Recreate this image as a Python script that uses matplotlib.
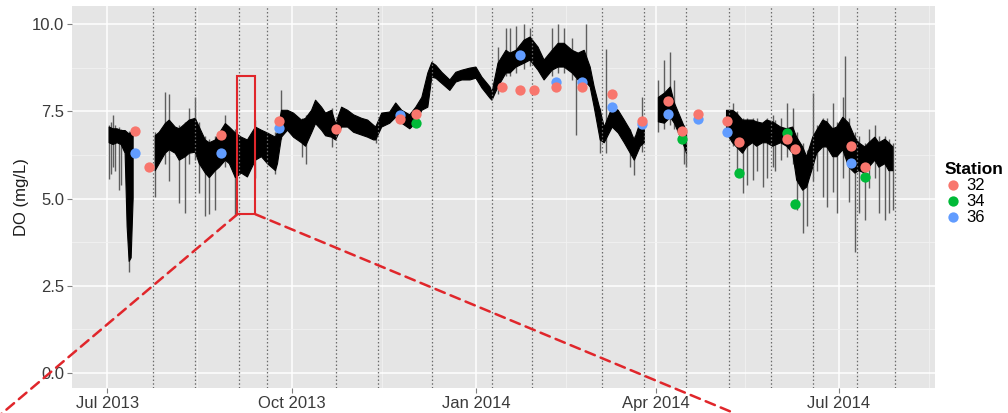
import numpy as np
import pandas as pd
import matplotlib
matplotlib.use("Agg")
import matplotlib.pyplot as plt
import matplotlib.dates as mdates
from matplotlib.patches import Rectangle, ConnectionPatch

plt.rcParams['font.family'] = ['Liberation Sans', 'DejaVu Sans']

nan = np.nan

# continuous DO record: date, band low, band high (NaN rows = gaps in the logger record)
do_dates = [
    "2013-07-02", "2013-07-04", "2013-07-06", "2013-07-08", "2013-07-10", "2013-07-11",
    "2013-07-12", "2013-07-13", "2013-07-14", "2013-07-19",
    "2013-07-25", "2013-07-27", "2013-07-30", "2013-08-01", "2013-08-04", "2013-08-06",
    "2013-08-09", "2013-08-11", "2013-08-14", "2013-08-16", "2013-08-19", "2013-08-21",
    "2013-08-24", "2013-08-26", "2013-08-29", "2013-08-31", "2013-09-03", "2013-09-06",
    "2013-09-09", "2013-09-13", "2013-09-16", "2013-09-19", "2013-09-23", "2013-09-24",
    "2013-09-26", "2013-09-29", "2013-10-02", "2013-10-06", "2013-10-08", "2013-10-11",
    "2013-10-13", "2013-10-16", "2013-10-18", "2013-10-21", "2013-10-23", "2013-10-26",
    "2013-10-29", "2013-11-01", "2013-11-05", "2013-11-08", "2013-11-11", "2013-11-12",
    "2013-11-15", "2013-11-19", "2013-11-22", "2013-11-25", "2013-11-29", "2013-12-02",
    "2013-12-05", "2013-12-08", "2013-12-10", "2013-12-12", "2013-12-15", "2013-12-19",
    "2013-12-22", "2013-12-25", "2013-12-29", "2014-01-01", "2014-01-04", "2014-01-08",
    "2014-01-09", "2014-01-12", "2014-01-16", "2014-01-18", "2014-01-21", "2014-01-25",
    "2014-01-28", "2014-02-01", "2014-02-04", "2014-02-08", "2014-02-11", "2014-02-14",
    "2014-02-18", "2014-02-21", "2014-02-24", "2014-02-27", "2014-03-01", "2014-03-04",
    "2014-03-06", "2014-03-10", "2014-03-13", "2014-03-16", "2014-03-19", "2014-03-21",
    "2014-03-24", "2014-03-26", "2014-03-29",
    "2014-04-02", "2014-04-05", "2014-04-08", "2014-04-10", "2014-04-13", "2014-04-15",
    "2014-04-16", "2014-04-25",
    "2014-05-06", "2014-05-09", "2014-05-11", "2014-05-14", "2014-05-16", "2014-05-19",
    "2014-05-21", "2014-05-24", "2014-05-26", "2014-05-29", "2014-06-02", "2014-06-05",
    "2014-06-08", "2014-06-10", "2014-06-13", "2014-06-15", "2014-06-18", "2014-06-20",
    "2014-06-23", "2014-06-25", "2014-06-28", "2014-06-30", "2014-07-03", "2014-07-06",
    "2014-07-09", "2014-07-11", "2014-07-14", "2014-07-16", "2014-07-19", "2014-07-21",
    "2014-07-24", "2014-07-26", "2014-07-28",
]
do_low = [
    6.6, 6.55, 6.6, 6.55, 6.3, 4.2, 3.2, 3.3, 5.0, nan,
    5.8, 6.0, 6.3, 6.4, 6.3, 6.1, 6.2, 6.3, 6.33, 6.0, 5.73, 5.6,
    5.8, 5.9, 6.1, 6.0, 5.6, 5.73, 5.62, 6.1, 6.2, 6.0, 5.8, 6.0,
    6.76, 6.96, 6.76, 6.6, 6.5, 6.88, 7.15, 6.96, 6.8, 6.76, 6.68, 7.05,
    7.05, 6.9, 6.82, 6.76, 6.68, 6.68, 7.05, 7.16, 7.33, 7.16, 7.0, 7.16,
    7.53, 7.62, 8.48, 8.45, 8.3, 8.1, 8.34, 8.4, 8.4, 8.45, 8.17, 7.88,
    7.82, 8.2, 8.6, 8.6, 8.77, 8.88, 8.97, 8.68, 8.4, 8.68, 8.77, 8.77,
    8.6, 8.4, 8.4, 8.2, 7.62, 6.68, 6.6, 7.05, 6.88, 6.6, 6.3, 6.1,
    6.5, 6.6, nan,
    7.2, 7.16, 7.33, 7.16, 6.76, 6.48, 6.3, nan,
    6.88, 6.6, 6.48, 6.3, 6.48, 6.6, 6.5, 6.6, 6.6, 6.5, 6.6, 6.5,
    6.3, 5.53, 5.24, 5.33, 5.9, 6.3, 6.48, 6.48, 6.2, 6.2, 6.4, 5.9,
    5.73, 5.8, 5.73, 5.9, 6.1, 5.9, 6.0, 5.8, 5.8,
]
do_high = [
    7.05, 7.0, 7.0, 6.95, 6.95, 6.9, 6.85, 6.9, 6.85, nan,
    6.8, 6.9, 7.15, 7.25, 7.05, 7.0, 7.15, 7.25, 7.3, 7.05, 6.68, 6.6,
    6.68, 6.88, 7.15, 7.05, 6.88, 6.76, 6.68, 7.05, 6.96, 6.88, 6.76, 6.9,
    7.53, 7.53, 7.45, 7.25, 7.3, 7.53, 7.82, 7.62, 7.45, 7.53, 7.15, 7.62,
    7.53, 7.4, 7.3, 7.25, 7.1, 7.05, 7.45, 7.48, 7.74, 7.53, 7.4, 7.62,
    7.9, 8.6, 8.9, 8.82, 8.62, 8.4, 8.62, 8.68, 8.74, 8.77, 8.48, 8.2,
    8.05, 8.88, 9.25, 9.17, 9.25, 9.54, 9.63, 9.34, 8.97, 9.25, 9.45, 9.45,
    9.25, 9.17, 9.25, 8.77, 8.2, 7.53, 7.05, 7.62, 7.53, 7.25, 6.96, 6.68,
    7.2, 7.25, nan,
    7.9, 8.02, 8.2, 7.74, 7.33, 7.05, 6.9, nan,
    7.53, 7.53, 7.45, 7.25, 7.25, 7.25, 7.2, 7.16, 7.25, 7.2, 7.05, 7.0,
    7.05, 6.76, 6.48, 6.2, 6.76, 6.96, 7.25, 7.2, 7.0, 7.05, 7.33, 7.16,
    6.76, 6.6, 6.48, 6.6, 6.76, 6.6, 6.7, 6.6, 6.48,
]

# excursions beyond the dense band (thin grey strokes)
spike_dates = [
    "2013-07-02", "2013-07-03", "2013-07-04", "2013-07-05", "2013-07-07", "2013-07-08",
    "2013-07-12", "2013-07-25", "2013-07-30", "2013-08-01", "2013-08-06", "2013-08-09",
    "2013-08-11", "2013-08-14", "2013-08-16", "2013-08-19", "2013-08-21", "2013-08-24",
    "2013-08-29", "2013-09-03", "2013-09-13", "2013-09-23", "2013-09-26", "2013-10-06",
    "2013-10-08", "2013-10-21", "2013-11-12", "2014-01-12", "2014-01-16", "2014-01-18",
    "2014-01-21", "2014-01-25", "2014-01-28", "2014-02-08", "2014-02-11", "2014-02-14",
    "2014-02-18", "2014-02-20", "2014-02-25", "2014-03-04", "2014-03-07", "2014-03-19",
    "2014-03-21", "2014-03-25", "2014-04-02", "2014-04-05", "2014-04-08", "2014-04-10",
    "2014-04-15", "2014-04-16", "2014-05-09", "2014-05-11", "2014-05-14", "2014-05-16",
    "2014-05-19", "2014-05-21", "2014-05-24", "2014-05-26", "2014-05-29", "2014-05-30",
    "2014-06-02", "2014-06-05", "2014-06-08", "2014-06-10", "2014-06-13", "2014-06-15",
    "2014-06-18", "2014-06-20", "2014-06-23", "2014-06-25", "2014-06-28", "2014-06-30",
    "2014-07-03", "2014-07-04", "2014-07-06", "2014-07-09", "2014-07-11", "2014-07-14",
    "2014-07-16", "2014-07-19", "2014-07-21", "2014-07-24", "2014-07-26", "2014-07-28",
]
spike_low = [
    5.55, 5.7, 5.9, 5.8, 5.24, 5.4, 2.9, 5.04, 6.0, 5.5, 4.87, 4.6,
    6.0, 6.1, 5.15, 4.5, 4.55, 4.67, 5.9, 4.5, 5.6, 5.7, 6.7, 6.2,
    6.0, 6.48, 6.6, 8.0, 8.5, 8.5, 8.6, 8.7, 8.8, 8.5, 8.6, 8.6,
    8.4, 6.82, 8.3, 6.3, 6.3, 5.9, 5.67, 6.33, 6.9, 7.0, 7.1, 7.0,
    6.0, 5.9, 6.5, 5.8, 5.15, 5.4, 5.53, 5.8, 5.33, 5.6, 5.9, 5.8,
    6.1, 6.2, 6.0, 4.67, 4.01, 4.2, 5.5, 5.8, 5.04, 4.76, 5.2, 4.58,
    5.6, 6.2, 4.9, 3.47, 4.6, 4.38, 5.3, 5.6, 4.58, 4.38, 4.58, 4.67,
]
spike_high = [
    7.1, 7.2, 7.39, 7.1, 7.05, 7.0, 6.95, 6.9, 8.05, 8.0, 7.1, 7.2,
    7.6, 7.9, 7.2, 6.8, 6.7, 6.8, 7.4, 7.0, 7.25, 6.9, 8.1, 7.3,
    7.4, 7.6, 7.1, 9.34, 9.9, 9.9, 9.95, 10.0, 9.9, 9.9, 10.0, 9.9,
    9.6, 8.45, 10.0, 7.6, 9.3, 7.0, 6.8, 7.9, 8.4, 8.97, 9.2, 8.4,
    7.1, 7.0, 7.74, 7.5, 7.3, 7.3, 7.3, 7.3, 7.2, 7.3, 7.4, 7.25,
    7.3, 7.74, 7.6, 6.9, 6.6, 6.4, 8.02, 7.1, 7.3, 7.3, 7.74, 7.2,
    7.9, 9.1, 7.3, 6.9, 6.8, 6.6, 7.0, 7.1, 6.8, 6.8, 6.7, 6.6,
]

# discrete station samples
st32_dates = ["2013-07-15", "2013-07-22", "2013-08-27", "2013-09-25", "2013-10-23", "2013-11-24",
              "2013-12-02", "2014-01-14", "2014-01-23", "2014-01-30", "2014-02-10", "2014-02-23",
              "2014-03-10", "2014-03-25", "2014-04-07", "2014-04-14", "2014-04-22", "2014-05-06",
              "2014-05-12", "2014-06-05", "2014-06-09", "2014-07-07", "2014-07-14"]
st32_do = [6.93, 5.9, 6.82, 7.22, 7.0, 7.28, 7.42, 8.2, 8.11, 8.11, 8.2, 8.19,
           7.99, 7.22, 7.79, 6.93, 7.42, 7.22, 6.62, 6.7, 6.42, 6.5, 5.9]
st34_dates = ["2013-12-02", "2014-04-14", "2014-05-12", "2014-06-05", "2014-06-09", "2014-07-14"]
st34_do = [7.17, 6.7, 5.73, 6.88, 4.84, 5.62]
st36_dates = ["2013-07-15", "2013-08-27", "2013-09-25", "2013-11-24", "2014-01-23", "2014-02-10",
              "2014-02-23", "2014-03-10", "2014-03-25", "2014-04-07", "2014-04-22", "2014-05-06",
              "2014-07-07"]
st36_do = [6.3, 6.3, 7.02, 7.39, 9.11, 8.34, 8.34, 7.62, 7.13, 7.42, 7.28, 6.9, 6.01]

# sampling-event markers
event_dates = ["2013-07-24", "2013-08-14", "2013-09-05", "2013-09-19", "2013-10-23", "2013-11-13",
               "2013-12-10", "2014-01-09", "2014-01-29", "2014-03-05", "2014-03-26", "2014-04-16",
               "2014-05-07", "2014-05-28", "2014-06-18", "2014-07-10", "2014-07-29"]

# zoom window
zoom_start, zoom_end = "2013-09-04", "2013-09-13"
zoom_low, zoom_high = 4.55, 8.5

fig = plt.figure(figsize=(10.08, 4.13), dpi=100)
ax = fig.add_axes([72 / 1008, 1 - 388 / 413, 863 / 1008, 382 / 413])

ax.set_facecolor("#E5E5E5")
for s in ax.spines.values():
    s.set_visible(False)

ax.set_xlim(pd.Timestamp("2013-06-13 12:00"), pd.Timestamp("2014-08-18"))
ax.set_ylim(-0.43, 10.52)

ax.xaxis.set_major_locator(mdates.MonthLocator(bymonth=[1, 4, 7, 10]))
ax.xaxis.set_major_formatter(mdates.DateFormatter("%b %Y"))
ax.xaxis.set_minor_locator(mdates.MonthLocator(bymonth=[2, 5, 8, 11], bymonthday=15))
ax.set_yticks([0, 2.5, 5, 7.5, 10])
ax.set_yticklabels(["0.0", "2.5", "5.0", "7.5", "10.0"])
ax.set_yticks([1.25, 3.75, 6.25, 8.75], minor=True)
ax.grid(which="major", color="white", lw=1.1)
ax.grid(which="minor", color="#F2F2F2", lw=0.6)
ax.set_axisbelow(True)
ax.tick_params(which="major", length=3.5, width=0.8, color="#7F7F7F", labelsize=12,
               labelcolor="#3A3A3A", pad=2)
ax.tick_params(which="minor", length=0)

ax.set_ylabel("DO (mg/L)", fontsize=12, color="#1A1A1A")
ax.yaxis.set_label_coords(-0.05, 0.5)

d = pd.to_datetime(do_dates)
sd = pd.to_datetime(spike_dates)
ax.vlines(sd, spike_low, spike_high, color="#5E5E5E", lw=1.0, zorder=2)
ax.fill_between(d, do_low, do_high, color="black", lw=0.8, edgecolor="black", zorder=3)

for ev in pd.to_datetime(event_dates):
    ax.axvline(ev, color="#6A6A6A", lw=0.9, ls=(0, (1.2, 1.8)), zorder=4)

ax.scatter(pd.to_datetime(st36_dates), st36_do, s=55, color="#619CFF", lw=0, zorder=5, label="36")
ax.scatter(pd.to_datetime(st34_dates), st34_do, s=55, color="#00BA38", lw=0, zorder=5, label="34")
ax.scatter(pd.to_datetime(st32_dates), st32_do, s=55, color="#F8766D", lw=0, zorder=6, label="32")

x0 = mdates.date2num(pd.Timestamp(zoom_start))
x1 = mdates.date2num(pd.Timestamp(zoom_end))
ax.add_patch(Rectangle((x0, zoom_low), x1 - x0, zoom_high - zoom_low, fill=False,
                       edgecolor="#E0262B", lw=1.5, zorder=7))
for xa, xb in [(x0, (0.0, -0.005)), (x1, (734 / 1008, 0.0))]:
    con = ConnectionPatch(xyA=(xa, zoom_low), coordsA=ax.transData, xyB=xb,
                          coordsB=fig.transFigure, color="#E0262B", lw=1.8,
                          linestyle=(0, (4, 2.5)), zorder=8)
    fig.add_artist(con)

h, l = ax.get_legend_handles_labels()
order = [2, 1, 0]
leg = fig.legend([h[i] for i in order], [l[i] for i in order], title="Station",
                 loc="upper left", bbox_to_anchor=(945 / 1008, 1 - 162 / 413),
                 frameon=False, fontsize=12, borderpad=0, handlelength=1.0,
                 handletextpad=0.3, labelspacing=0.05, borderaxespad=0,
                 alignment="left", markerscale=1.0)
leg.get_title().set_fontweight("bold")
leg.get_title().set_fontsize(12.5)

fig.savefig("out.png", dpi=100)
